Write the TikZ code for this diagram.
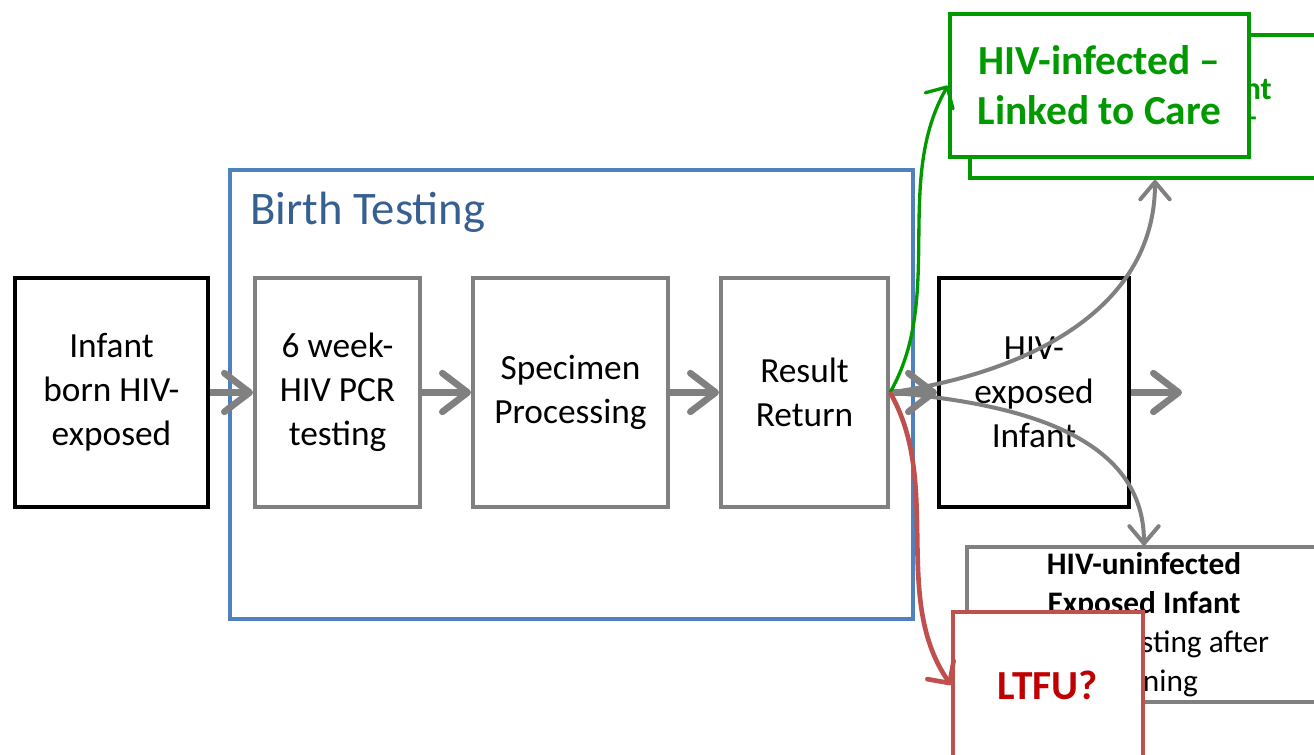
\documentclass[tikz,border=0pt]{standalone}
\usepackage{fontspec}
\setmainfont{Carlito}
\usetikzlibrary{arrows.meta}

\definecolor{boxgray}{HTML}{808080}
\definecolor{birthblue}{HTML}{4F81BD}
\definecolor{titleblue}{RGB}{55,96,146}
\definecolor{linkgreen}{HTML}{009A00}
\definecolor{ltfured}{HTML}{C0504D}
\definecolor{ltfutext}{HTML}{C00000}

\newcommand\boxfont{\fontsize{26.5}{33}\selectfont}
\newcommand\titlefont{\fontsize{35}{42}\selectfont}
\newcommand\linkfont{\fontsize{31}{37.5}\selectfont\bfseries}
\newcommand\backfont{\fontsize{24}{21}\selectfont\bfseries}
\newcommand\uninffont{\fontsize{23.5}{29.25}\selectfont}
\newcommand\ltfufont{\fontsize{31}{36}\selectfont\bfseries}

\begin{document}
\begin{tikzpicture}[x=0.75pt, y=0.75pt,
  stagebox/.style={draw=boxgray, line width=3pt, fill=white, align=center,
    inner sep=0pt, minimum height=171.75pt, font=\boxfont},
  infbox/.style={stagebox, draw=black},
  gbox/.style={draw=linkgreen, line width=3pt, fill=white, align=center, inner sep=0pt},
  bigarrow/.style={draw=boxgray, line width=5pt,
    -{Straight Barb[round, length=19pt, width=29pt]}},
  thinarrow/.style={draw=boxgray, line width=3pt,
    -{Straight Barb[round, length=13pt, width=22pt]}},
  greenarrow/.style={draw=linkgreen, line width=2.5pt,
    -{Straight Barb[round, length=12pt, width=24pt]}},
  redarrow/.style={draw=ltfured, line width=3.5pt,
    -{Straight Barb[round, length=12pt, width=24pt]}}]
  \useasboundingbox (0,0) rectangle (1314,755);
  \clip (0,0) rectangle (1314,755);

  % birth testing frame
  \node[draw=birthblue, line width=3pt, minimum width=512.25pt,
    minimum height=336.75pt] (birth) at (571.5,360.5) {};
  \node[font=\titlefont, text=titleblue, inner sep=0pt, anchor=base west]
    (birthlbl) at (250,530) {Birth Testing};

  % main flow
  \node[infbox, minimum width=144.75pt] (inf) at (111.5,362.5) {Infant\\born HIV-\\exposed};
  \node[stagebox, minimum width=123.75pt] (pcr) at (337.5,362.5) {6 week-\\HIV PCR\\testing};
  \node[stagebox, minimum width=146.25pt] (spec) at (570.5,362.5) {Specimen\\Processing};
  \node[stagebox, minimum width=125.25pt] (ret) at (804.5,362.5) {Result\\Return};
  \node[infbox, minimum width=142.5pt] (hei) at (1034,362.5) {HIV-\\exposed\\Infant};
  \coordinate (heiout) at (1182,362.5);

  \draw[bigarrow] (inf.east) -- (pcr.west);
  \draw[bigarrow] (pcr.east) -- (spec.west);
  \draw[bigarrow] (spec.east) -- (ret.west);
  \draw[bigarrow] (ret.east) -- (hei.west);
  \draw[bigarrow] (hei.east) -- (heiout);

  % outcomes
  \node[gbox, minimum width=277.5pt, minimum height=107.25pt] (gback) at (1155,648.5) {};
  \node[font=\backfont, text=linkgreen, align=right, inner sep=0pt, anchor=east]
    (gbacklbl) at (1272,653) {HIV-infected Infant\\--\hspace*{10pt}};
  \node[gbox, minimum width=224.25pt, minimum height=107.25pt, font=\linkfont,
    text=linkgreen] (gfront) at (1099.5,669.5) {HIV-infected --\\Linked to Care};

  \node[stagebox, minimum width=265.5pt, minimum height=116.25pt, font=\uninffont]
    (uninf) at (1144,130)
    {\textbf{HIV-uninfected}\\\textbf{Exposed Infant}\\Repeat testing after\\weaning};
  \node[draw=ltfured, line width=3pt, fill=white, minimum width=142.5pt,
    minimum height=109.5pt, font=\ltfufont, text=ltfutext] (ltfu) at (1048,70) {LTFU?};

  % branches from result return
  \draw[thinarrow] (ret.east) to[out=8, in=-90] (gback.south);
  \draw[thinarrow] (ret.east) to[out=-5, in=90] (uninf.north);
  \draw[greenarrow] (ret.east) to[out=60, in=240, looseness=0.9] (gfront.west);
  \draw[redarrow] (ret.east) to[out=-60, in=125, looseness=0.9] (ltfu.west);
\end{tikzpicture}
\end{document}
